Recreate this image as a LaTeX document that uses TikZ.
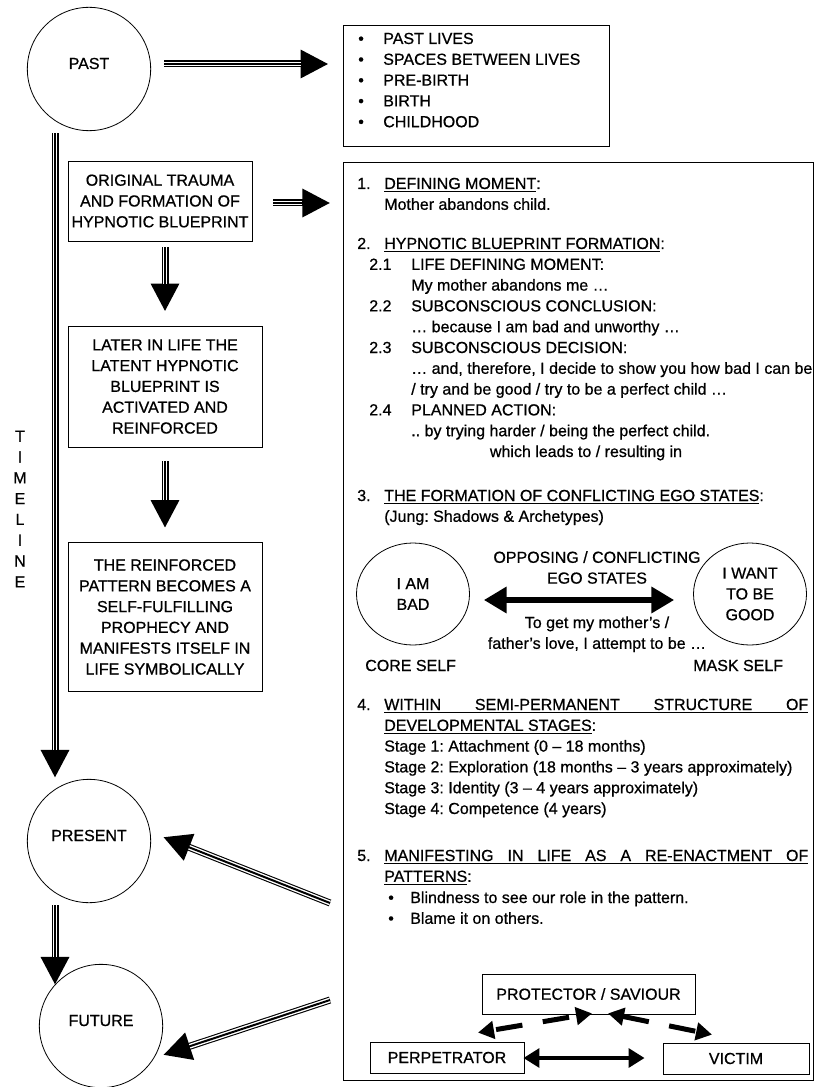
\documentclass[tikz,border=0pt]{standalone}
\usepackage{fontspec}
\setmainfont[UprightFeatures={FakeBold=0.7}]{Liberation Sans}
\usetikzlibrary{arrows.meta,backgrounds,shapes.geometric}
\newcommand{\puce}{\makebox[18.75pt][l]{•}}
\frenchspacing

\tikzset{
  every node/.append style={font=\fontsize{12}{15.6}\selectfont},
  cercle/.style={draw, circle, line width=0.6pt, minimum size=92.5pt, inner sep=0pt, text height=6pt, text depth=6pt},
  ego/.style={draw, ellipse, line width=0.6pt, minimum width=84.75pt, minimum height=76.5pt, inner sep=0pt, align=center},
  boite/.style={draw, rectangle, line width=0.6pt, inner sep=0pt, align=center},
  texte/.style={anchor=base west, align=left, inner sep=0pt},
  fleche/.style={line width=5.25pt, -{Triangle[length=21pt,width=20pt]},
    postaction={draw=white, line width=3.6pt, -, shorten >=21pt},
    postaction={draw=black, line width=1.5pt, -, shorten >=20pt}},
  flechedouble/.style={line width=4pt, {Triangle[length=17pt,width=19pt]}-{Triangle[length=17pt,width=19pt]}},
  flecheboite/.style={line width=3.5pt, {Triangle[length=12pt,width=14pt]}-{Triangle[length=12pt,width=14pt]}},
  flechetiret/.style={line width=3.75pt, dash pattern=on 20pt off 15.5pt,
    {Triangle[length=12pt,width=13pt]}-{Triangle[length=12pt,width=13pt]}},
}

\begin{document}
\begin{tikzpicture}[%
    x=0.75pt, y=-0.75pt,%
    show background rectangle,%
    tight background,%
    background rectangle/.style={fill=white}%
    ]
    \useasboundingbox (0,0) rectangle (817,1087);

    %
    % Définitions
    %
    \pgfmathsetmacro{\xnum}{357};%
    \pgfmathsetmacro{\xtxt}{384};%
    \pgfmathsetmacro{\xsub}{369};%
    \pgfmathsetmacro{\xsubt}{411};%
    \pgfmathsetmacro{\xpuce}{388};%
    \pgfmathsetmacro{\xpucet}{410};%

    \coordinate (qpres) at (330,903);
    \coordinate (qfut) at (330,1000);

    % Cercles du temps
    \node[cercle] (past) at (89,69) {PAST};
    \node[cercle] (present) at (89,841) {PRESENT};
    \node[cercle] (future) at (101,1026) {FUTURE};
    \node[align=center, inner sep=0pt] (timeline) at (20,509) {T\\I\\M\\E\\L\\I\\N\\E};

    % Cadres de gauche
    \node[boite, minimum width=138pt, minimum height=60pt] (traum) at (160,201)
        {ORIGINAL TRAUMA\\AND FORMATION OF\\HYPNOTIC BLUEPRINT};
    \node[boite, minimum width=145.5pt, minimum height=90.75pt] (later) at (165,386.5)
        {LATER IN LIFE THE\\LATENT HYPNOTIC\\BLUEPRINT IS\\ACTIVATED AND\\REINFORCED};
    \node[boite, minimum width=145.5pt, minimum height=111.75pt] (reinf) at (165,617)
        {THE REINFORCED\\PATTERN BECOMES A\\SELF-FULFILLING\\PROPHECY AND\\MANIFESTS ITSELF IN\\LIFE SYMBOLICALLY};

    % Cadres de droite
    \node[boite, minimum width=199.5pt, minimum height=90.75pt] (liste) at (476,85.5) {};
    \node[texte] (listetxt) at (358,127.2)
        {\puce PAST LIVES\\\puce SPACES BETWEEN LIVES\\\puce PRE-BIRTH\\\puce BIRTH\\\puce CHILDHOOD};
    \node[boite, minimum width=352.5pt, minimum height=688.5pt] (cadre) at (578,621) {};

    % 1.
    \node[texte] (n1) at (\xnum,189) {1.};
    \node[texte] (t1) at (\xtxt,209.8) {\underline{DEFINING MOMENT}:\\Mother abandons child.};

    % 2.
    \node[texte] (n2) at (\xnum,249) {2.};
    \node[texte] (t2) at (\xtxt,249) {\underline{HYPNOTIC BLUEPRINT FORMATION}:};
    \node[texte] (n21) at (\xsub,269.8) {2.1};
    \node[texte] (n22) at (\xsub,311.4) {2.2};
    \node[texte] (n23) at (\xsub,353) {2.3};
    \node[texte] (n24) at (\xsub,415.4) {2.4};
    \node[texte] (t2s) at (\xsubt,436.2)
        {LIFE DEFINING MOMENT:\\My mother abandons me …\\SUBCONSCIOUS CONCLUSION:\\… because I am bad and unworthy …\\SUBCONSCIOUS DECISION:\\… and, therefore, I decide to show you how bad I can be\\/ try and be good / try to be a perfect child …\\PLANNED ACTION:\\.. by trying harder / being the perfect child.};
    \node[anchor=base, inner sep=0pt] (mene) at (586,457) {which leads to / resulting in};

    % 3.
    \node[texte] (n3) at (\xnum,501) {3.};
    \node[texte] (t3) at (\xtxt,521.8) {\underline{THE FORMATION OF CONFLICTING EGO STATES}:\\(Jung: Shadows \& Archetypes)};
    \node[ego] (bad) at (413,594) {I AM\\BAD};
    \node[ego] (good) at (750,594) {I WANT\\TO BE\\GOOD};
    \node[align=center, inner sep=0pt] (oppose) at (597,567.5) {OPPOSING / CONFLICTING\\EGO STATES};
    \node[align=center, anchor=base, inner sep=0pt] (obtenir) at (597,648.8)
        {To get my mother’s /\\father’s love, I attempt to be …};
    \node[texte] (core) at (365,671) {CORE SELF};
    \node[texte] (mask) at (693,671) {MASK SELF};
    \draw[flechedouble] ([shift={(14,6)}]bad.east) -- ([shift={(-19,6)}]good.west);

    % 4.
    \node[texte] (n4) at (\xnum,710) {4.};
    \node[texte] (t4) at (\xtxt,814)
        {\underline{\makebox[318pt][s]{WITHIN SEMI-PERMANENT STRUCTURE OF}}\\\underline{DEVELOPMENTAL STAGES}:\\Stage 1: Attachment (0 – 18 months)\\Stage 2: Exploration (18 months – 3 years approximately)\\Stage 3: Identity (3 – 4 years approximately)\\Stage 4: Competence (4 years)};

    % 5.
    \node[texte] (n5) at (\xnum,861) {5.};
    \node[texte] (t5) at (\xtxt,881.8)
        {\underline{\makebox[318pt][s]{MANIFESTING IN LIFE AS A RE-ENACTMENT OF}}\\\underline{PATTERNS}:};
    \node[texte] (p5) at (\xpuce,923.8) {•\\•};
    \node[texte] (t5b) at (\xpucet,923.8) {Blindness to see our role in the pattern.\\Blame it on others.};

    % Triangle
    \node[boite, minimum width=159.75pt, minimum height=30pt] (prot) at (588.5,994) {PROTECTOR / SAVIOUR};
    \node[boite, minimum width=115.5pt, minimum height=23.25pt] (perp) at (447,1057.5) {PERPETRATOR};
    \node[boite, minimum width=109.5pt, minimum height=23.25pt] (vict) at (736,1058.5) {VICTIM};
    \draw[flecheboite] ([shift={(-1,0.5)}]perp.east) -- ([shift={(-18,-0.5)}]vict.west);
    \draw[flechetiret, dash phase=33pt] ([shift={(31,-9)}]perp.north) -- ([shift={(3.5,-1)}]prot.south);
    \draw[flechetiret] ([shift={(19.5,-1)}]prot.south) -- ([shift={(-24,-8)}]vict.north);

    % Flèches
    \draw[fleche] ([shift={(13,-5)}]past.east) -- ([shift={(-14,-21.5)}]liste.west);
    \draw[fleche] ([shift={(21,2)}]traum.east) -- ++(57,0);
    \draw[fleche] ([shift={(5,6)}]traum.south) -- ([shift={(0,-14)}]later.north);
    \draw[fleche] ([shift={(0,14)}]later.south) -- ([shift={(0,-14)}]reinf.north);
    \draw[fleche] ([shift={(-34,2)}]past.south) -- ([shift={(-34,-1)}]present.north);
    \draw[fleche] ([shift={(-34,2)}]present.south) -- ([shift={(-46,21)}]future.north);
    \draw[fleche] (qpres) -- ([shift={(12,-4)}]present.east);
    \draw[fleche] (qfut) -- ([shift={(0,29)}]future.east);

\end{tikzpicture}
\end{document}
